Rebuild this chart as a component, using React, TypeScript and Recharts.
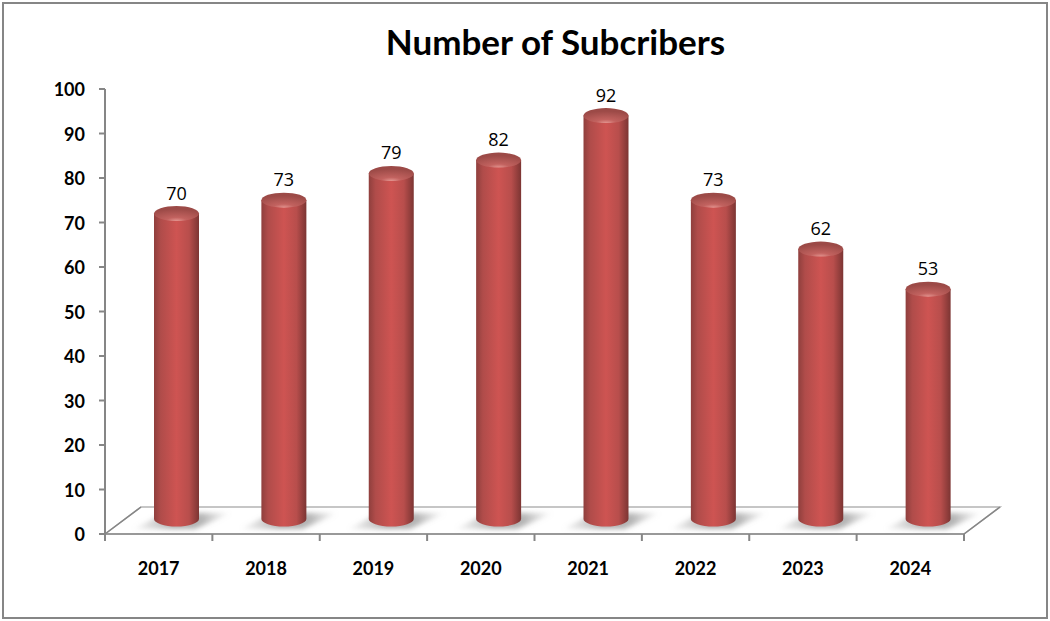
import { BarChart, Bar, XAxis, YAxis, LabelList } from "recharts";

const YEARS = ["2017", "2018", "2019", "2020", "2021", "2022", "2023", "2024"];
const SUBSCRIBERS = [70, 73, 79, 82, 92, 73, 62, 53];
const Y_TICKS = [0, 10, 20, 30, 40, 50, 60, 70, 80, 90, 100];

const chartData = YEARS.map((year, i) => ({ year, subscribers: SUBSCRIBERS[i] }));

const AXIS_GREY = "#868686";
const BAND = 859 / YEARS.length;
const DEPTH_X = 18; // half of the 3d floor depth

function Floor() {
  return (
    <g>
      <polygon points="105,534 141,507 1000,507 964,534" fill="#fff" stroke="#b4b4b4" strokeWidth={1.5} />
      <line x1={105} y1={534} x2={964} y2={534} stroke="#999" strokeWidth={2} />
      <line x1={105} y1={534} x2={141} y2={507} stroke={AXIS_GREY} strokeWidth={1.5} />
      <line x1={964} y1={534} x2={1000} y2={507} stroke={AXIS_GREY} strokeWidth={1.5} />
    </g>
  );
}

function Cylinder({ x, y, width, height }: any) {
  const left = x + DEPTH_X;
  const right = left + width;
  const cx = left + width / 2;
  const rx = width / 2;
  const ry = 7.5;
  const topY = y - 9;
  const baseY = y + height - 15;
  return (
    <g>
      <polygon
        points={`${left - 20},${baseY + 10} ${right - 4},${baseY + 10} ${right + 32},${baseY - 6} ${left + 10},${baseY - 6}`}
        fill="url(#floorShadow)"
        filter="url(#softBlur)"
      />
      <path
        d={`M${left},${topY} L${left},${baseY} A${rx},${ry} 0 0 0 ${right},${baseY} L${right},${topY} Z`}
        fill="url(#barSide)"
      />
      <ellipse cx={cx} cy={topY} rx={rx} ry={ry} fill="url(#barTop)" />
    </g>
  );
}

function YearTick({ x, y, payload, index }: any) {
  return (
    <g>
      {index === 0 && <line x1={x - BAND / 2} y1={534} x2={x - BAND / 2} y2={541} stroke={AXIS_GREY} strokeWidth={2} />}
      <line x1={x + BAND / 2} y1={534} x2={x + BAND / 2} y2={541} stroke={AXIS_GREY} strokeWidth={2} />
      <text x={x} y={y + 33} textAnchor="middle" fontFamily="Lato" fontWeight={700} fontSize={18} fill="#000">
        {payload.value}
      </text>
    </g>
  );
}

function ValueLabel({ x, y, width, value }: any) {
  return (
    <text x={x + width / 2 + DEPTH_X} y={y - 23} textAnchor="middle" fontFamily="'Open Sans'" fontSize={18} fill="#000">
      {value}
    </text>
  );
}

export default function App() {
  return (
    <div style={{ position: "absolute", left: 0, top: 0, width: 1050, height: 621, background: "#fff" }}>
      <div
        style={{
          position: "absolute",
          left: 2,
          top: 2,
          width: 1042,
          height: 613,
          border: "2px solid #868686",
        }}
      />
      <div
        style={{
          position: "absolute",
          left: 0,
          top: 18,
          width: 1111,
          textAlign: "center",
          fontFamily: "Lato",
          fontWeight: 700,
          fontSize: 35,
          lineHeight: "46px",
          color: "#000",
        }}
      >
        Number of Subcribers
      </div>
      <BarChart
        width={1050}
        height={621}
        data={chartData}
        margin={{ top: 89, right: 86, bottom: 0, left: 0 }}
        style={{ position: "absolute", left: 0, top: 0 }}
      >
        <defs>
          <linearGradient id="barSide" x1="0" y1="0" x2="1" y2="0">
            <stop offset="0%" stopColor="#8f3f3d" />
            <stop offset="15%" stopColor="#b04c4a" />
            <stop offset="50%" stopColor="#ce5452" />
            <stop offset="78%" stopColor="#b84e4c" />
            <stop offset="100%" stopColor="#7c3533" />
          </linearGradient>
          <radialGradient id="barTop" cx="0.5" cy="1" r="0.8" fx="0.5" fy="1">
            <stop offset="0%" stopColor="#e49590" />
            <stop offset="30%" stopColor="#c2625f" />
            <stop offset="100%" stopColor="#9c4a47" />
          </radialGradient>
          <linearGradient id="floorShadow" x1="0" y1="0" x2="1" y2="0">
            <stop offset="0%" stopColor="#a6a6a6" stopOpacity={0.1} />
            <stop offset="40%" stopColor="#8a8a8a" stopOpacity={0.7} />
            <stop offset="70%" stopColor="#8c8c8c" stopOpacity={0.65} />
            <stop offset="100%" stopColor="#a6a6a6" stopOpacity={0} />
          </linearGradient>
          <filter id="softBlur" x="-20%" y="-50%" width="140%" height="200%">
            <feGaussianBlur stdDeviation="2.5" />
          </filter>
        </defs>
        <Floor />
        <XAxis
          dataKey="year"
          height={87}
          axisLine={false}
          tickLine={false}
          tick={<YearTick />}
          interval={0}
        />
        <YAxis
          width={105}
          domain={[0, 100]}
          ticks={Y_TICKS}
          interval={0}
          axisLine={{ stroke: AXIS_GREY, strokeWidth: 2 }}
          tickLine={{ stroke: AXIS_GREY, strokeWidth: 2 }}
          tickSize={6}
          tickMargin={14}
          tick={{ fill: "#000", fontSize: 18, fontWeight: 700, fontFamily: "Lato", dy: 1 }}
        />
        <Bar dataKey="subscribers" barSize={45} shape={<Cylinder />} isAnimationActive={false}>
          <LabelList dataKey="subscribers" content={<ValueLabel />} />
        </Bar>
      </BarChart>
    </div>
  );
}
